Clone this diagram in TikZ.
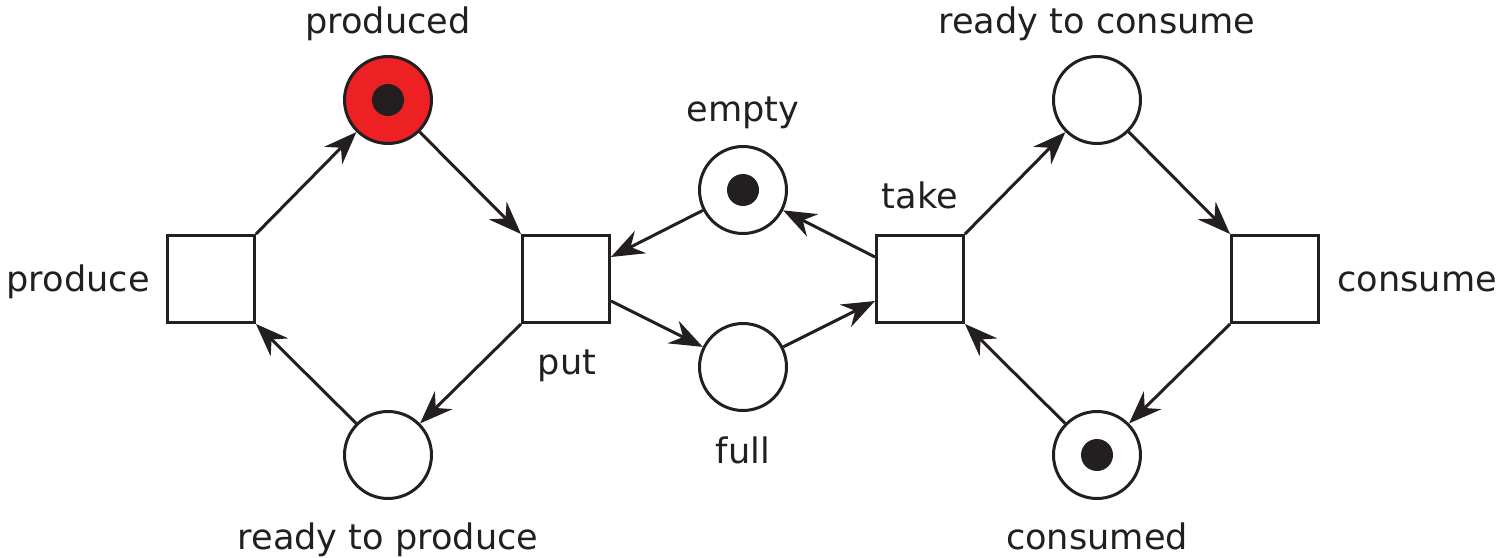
\documentclass[tikz,border=0pt]{standalone}
\usepackage{fontspec}
\setmainfont{DejaVu Sans}
\usepackage{tikz}
\usetikzlibrary{positioning, arrows.meta}
\definecolor{ink}{HTML}{231F20}
\definecolor{tokred}{HTML}{ED2024}

\begin{document}
\begin{tikzpicture}[
        x=0.02cm, y=-0.02cm,
        place/.style={circle,draw=ink,line width=0.06cm,minimum size=1.74cm,inner sep=0},
        trans/.style={rectangle,draw=ink,line width=0.06cm,minimum size=1.74cm,inner sep=0},
        tok/.style={circle,fill=ink,minimum size=0.64cm,inner sep=0},
        lbl/.style={inner sep=0,anchor=base,text=ink,font=\fontsize{20pt}{24pt}\selectfont},
        arc/.style={draw=ink,line width=0.06cm,-{Stealth[length=0.66cm,width=0.5cm,inset=0.22cm]}}
      ]
      \useasboundingbox (0,0) rectangle (1499,558);
      % places
      \node[place,fill=tokred] (produced) at (388,100) {};
      \node[place] (readyprod) at (388,455) {};
      \node[place] (empty) at (743,190) {};
      \node[place] (full) at (743,367) {};
      \node[place] (readycons) at (1097,100) {};
      \node[place] (consumed) at (1097,455) {};
      \foreach\p in {produced,empty,consumed}{\node[tok] (t\p) at (\p) {};}
      % transitions
      \node[trans] (produce) at (211,279) {};
      \node[trans] (put) at (566,279) {};
      \node[trans] (take) at (920,279) {};
      \node[trans] (consume) at (1275,279) {};
      % labels
      \node[lbl] (lproduced) at (388,33) {produced};
      \node[lbl] (lreadyprod) at (388,549) {ready to produce};
      \node[lbl] (lempty) at (743,121) {empty};
      \node[lbl] (lfull) at (743,463) {full};
      \node[lbl] (lreadycons) at (1097,33) {ready to consume};
      \node[lbl] (lconsumed) at (1097,549) {consumed};
      \node[lbl,anchor=base east] (lproduce) at (150,291) {produce};
      \node[lbl] (lput) at (567,374) {put};
      \node[lbl] (ltake) at (920,208) {take};
      \node[lbl,anchor=base west] (lconsume) at (1337,291) {consume};
      % arcs
      \draw[arc] (produce.north east) -- (produced);
      \draw[arc] (produced) -- (put.north west);
      \draw[arc] (put.south west) -- (readyprod);
      \draw[arc] (readyprod) -- (produce.south east);
      \draw[arc] (empty) -- ([yshift=0.44cm]put.east);
      \draw[arc] ([yshift=-0.44cm]put.east) -- (full);
      \draw[arc] (full) -- ([yshift=-0.44cm]take.west);
      \draw[arc] ([yshift=0.44cm]take.west) -- (empty);
      \draw[arc] (take.north east) -- (readycons);
      \draw[arc] (readycons) -- (consume.north west);
      \draw[arc] (consume.south west) -- (consumed);
      \draw[arc] (consumed) -- (take.south east);
    \end{tikzpicture}
\end{document}
